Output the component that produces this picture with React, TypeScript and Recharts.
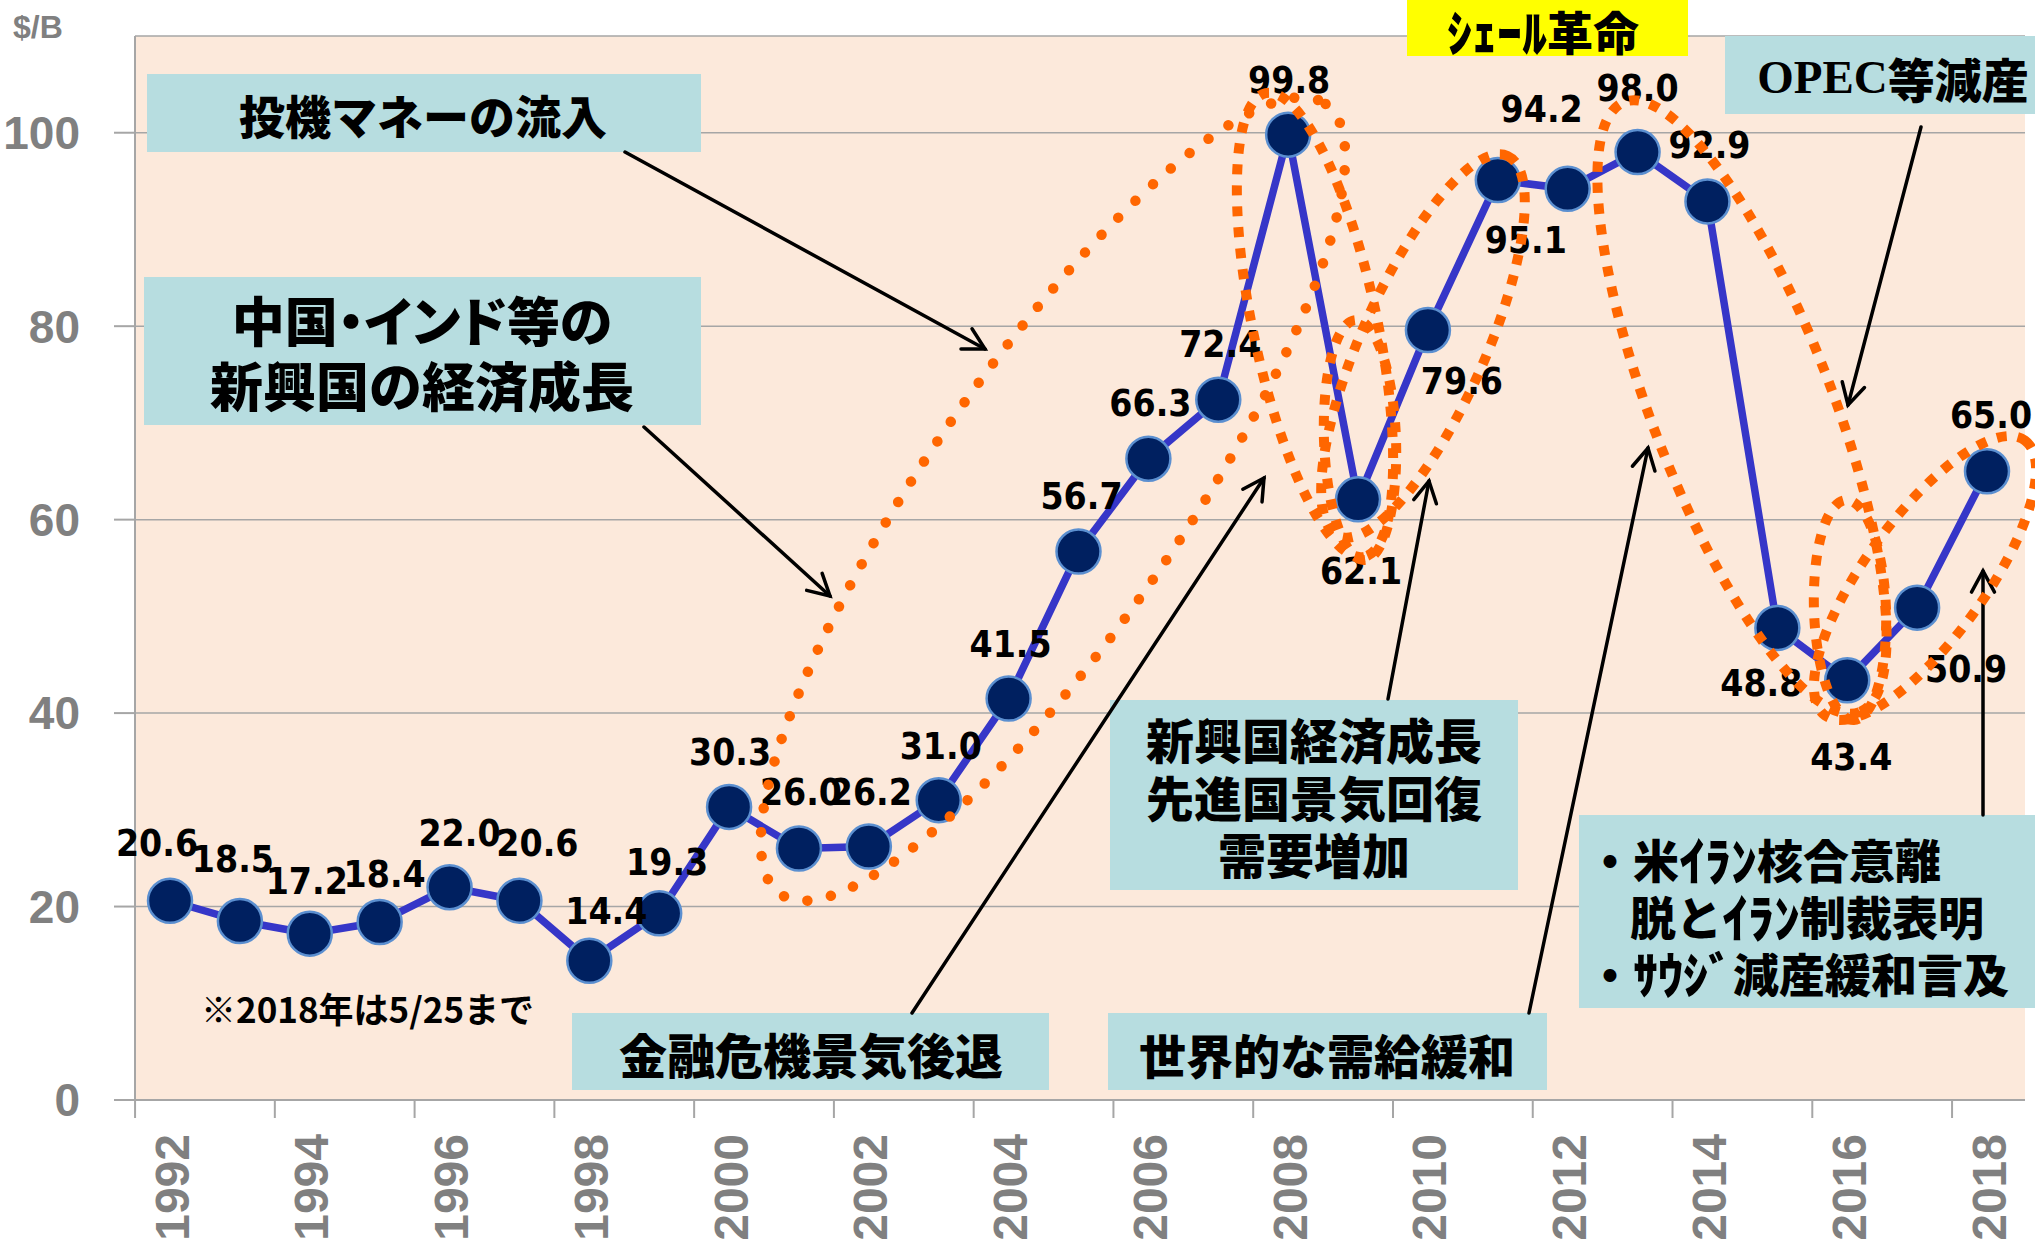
import React from 'react';
import { LineChart, Line, XAxis, YAxis, CartesianGrid, LabelList } from 'recharts';

// ---------- data ----------
const years = [
  '1992', '1993', '1994', '1995', '1996', '1997', '1998', '1999', '2000',
  '2001', '2002', '2003', '2004', '2005', '2006', '2007', '2008', '2009',
  '2010', '2011', '2012', '2013', '2014', '2015', '2016', '2017', '2018',
];
const prices = [
  20.6, 18.5, 17.2, 18.4, 22.0, 20.6, 14.4, 19.3, 30.3,
  26.0, 26.2, 31.0, 41.5, 56.7, 66.3, 72.4, 99.8, 62.1,
  79.6, 95.1, 94.2, 98.0, 92.9, 48.8, 43.4, 50.9, 65.0,
];
const yTicks = [0, 20, 40, 60, 80, 100];
const yUnit = '$/B';
const note = '※2018年は5/25まで';

const data = years.map((year, i) => ({ year, price: prices[i] }));

// ---------- layout ----------
const W = 2035;
const H = 1243;
const PLOT_LEFT = 135;
const PLOT_TOP = 36;
const PLOT_RIGHT = 2025;
const PLOT_BOTTOM = 1100;
const PAD_L = 35;
const PAD_R = 38;
const STEP = (PLOT_RIGHT - PAD_R - PLOT_LEFT - PAD_L) / (years.length - 1);

// label offsets (dx, dy) of each data label from its point
const labelOffsets: [number, number][] = [
  [-13, -57], [-7, -62], [-3, -52], [5, -48], [10, -54], [18, -57], [17, -49], [8, -51], [1, -54],
  [2, -56], [2, -54], [2, -54], [2, -54], [3, -55], [2, -55], [2, -55], [1, -54], [3, 72],
  [34, 51], [28, 60], [-26, -79], [0, -64], [2, -56], [-16, 56], [4, 77], [49, 62], [4, -56],
];

const GREY = '#808080';
const BOX = '#B7DDE0';
const ORANGE = '#FF6600';
const CJK = "'Noto Sans CJK JP', 'Noto Sans CJK SC', sans-serif";

const renderLabel = (props: any) => {
  const { x, y, value } = props;
  let i = props.index;
  if (i === undefined || i === null) i = years.indexOf(props?.payload?.year);
  const off = labelOffsets[i] || [0, -55];
  return (
    <text
      x={x + off[0]}
      y={y + off[1]}
      textAnchor="middle"
      dominantBaseline="central"
      fontFamily="'DejaVu Sans Condensed', 'DejaVu Sans', sans-serif"
      fontStretch="condensed"
      fontWeight="bold"
      fontSize={37}
      fill="#000"
    >
      {Number(value).toFixed(1)}
    </text>
  );
};

const XTick = (props: any) => {
  const { x, y, payload } = props;
  return (
    <g>
      <line x1={x - STEP / 2} y1={y} x2={x - STEP / 2} y2={y + 18} stroke="#A6A6A6" strokeWidth={2} />
      <g transform={`translate(${x + 2},${y}) rotate(-90)`}>
        <text
          x={-34}
          y={0}
          textAnchor="end"
          dominantBaseline="central"
          fontFamily="'Liberation Sans', Arial, sans-serif"
          fontWeight="bold"
          fontSize={48}
          fill={GREY}
        >
          {payload.value}
        </text>
      </g>
    </g>
  );
};

const Arrow = ({ x1, y1, x2, y2 }: { x1: number; y1: number; x2: number; y2: number }) => {
  const ang = Math.atan2(y2 - y1, x2 - x1);
  const L = 24;
  const a = 0.5;
  const p1 = [x2 - L * Math.cos(ang - a), y2 - L * Math.sin(ang - a)];
  const p2 = [x2 - L * Math.cos(ang + a), y2 - L * Math.sin(ang + a)];
  return (
    <g stroke="#000" strokeWidth={3.5} fill="none" strokeLinecap="round">
      <line x1={x1} y1={y1} x2={x2} y2={y2} />
      <polyline points={`${p1[0]},${p1[1]} ${x2},${y2} ${p2[0]},${p2[1]}`} />
    </g>
  );
};

const Ell = ({ cx, cy, rx, ry, rot, round }: { cx: number; cy: number; rx: number; ry: number; rot: number; round?: boolean }) => (
  <ellipse
    cx={cx}
    cy={cy}
    rx={rx}
    ry={ry}
    transform={`rotate(${rot} ${cx} ${cy})`}
    fill="none"
    stroke={ORANGE}
    strokeWidth={round ? 10.5 : 10}
    strokeDasharray={round ? '0.01 24' : '10 11'}
    strokeLinecap={round ? 'round' : 'butt'}
  />
);

const Overlay = () => (
  <svg
    width={W}
    height={H}
    style={{ position: 'absolute', left: 0, top: 0, pointerEvents: 'none' }}
  >
    {/* unit */}
    <text x={13} y={27} dominantBaseline="central" fontFamily="'Liberation Sans', Arial, sans-serif" fontWeight="bold" fontSize={32} fill={GREY}>
      {yUnit}
    </text>

    {/* boxes */}
    <rect x={147} y={74} width={554} height={78} fill={BOX} />
    <text x={423} y={114} textAnchor="middle" dominantBaseline="central" fontFamily={CJK} fontWeight={900} fontSize={46}>投機マネーの流入</text>

    <rect x={144} y={277} width={557} height={148} fill={BOX} />
    <text x={422} y={319} textAnchor="middle" dominantBaseline="central" fontFamily={CJK} fontWeight={900} fontSize={53} style={{ fontFeatureSettings: '"palt"' }}>中国・インド等の</text>
    <text x={422} y={384} textAnchor="middle" dominantBaseline="central" fontFamily={CJK} fontWeight={900} fontSize={53}>新興国の経済成長</text>

    <rect x={572} y={1013} width={477} height={77} fill={BOX} />
    <text x={811} y={1053} textAnchor="middle" dominantBaseline="central" fontFamily={CJK} fontWeight={900} fontSize={48}>金融危機景気後退</text>

    <rect x={1110} y={700} width={408} height={190} fill={BOX} />
    <text x={1314} y={738} textAnchor="middle" dominantBaseline="central" fontFamily={CJK} fontWeight={900} fontSize={48}>新興国経済成長</text>
    <text x={1314} y={796} textAnchor="middle" dominantBaseline="central" fontFamily={CJK} fontWeight={900} fontSize={48}>先進国景気回復</text>
    <text x={1314} y={853} textAnchor="middle" dominantBaseline="central" fontFamily={CJK} fontWeight={900} fontSize={48}>需要増加</text>

    <rect x={1108} y={1013} width={439} height={77} fill={BOX} />
    <text x={1327} y={1053} textAnchor="middle" dominantBaseline="central" fontFamily={CJK} fontWeight={900} fontSize={47}>世界的な需給緩和</text>

    <rect x={1407} y={0} width={281} height={56} fill="#FFFF00" />
    <text x={1447} y={30} dominantBaseline="central" fontFamily={CJK} fontWeight={900} fontSize={46}>
      <tspan fontSize={50}>ｼｪｰﾙ</tspan>革命
    </text>

    <rect x={1725} y={36} width={310} height={78} fill={BOX} />
    <text x={1893} y={77} textAnchor="middle" dominantBaseline="central" fontWeight={900} fontSize={47}>
      <tspan fontFamily="'Liberation Serif', 'Times New Roman', serif" fontWeight="bold">OPEC</tspan>
      <tspan fontFamily={CJK}>等減産</tspan>
    </text>

    <rect x={1579} y={815} width={456} height={193} fill={BOX} />
    <text x={1587} y={858} dominantBaseline="central" fontFamily={CJK} fontWeight={900} fontSize={46}>
      ・米<tspan fontSize={52}>ｲﾗﾝ</tspan>核合意離
    </text>
    <text x={1630} y={915} dominantBaseline="central" fontFamily={CJK} fontWeight={900} fontSize={46}>
      脱と<tspan fontSize={52}>ｲﾗﾝ</tspan>制裁表明
    </text>
    <text x={1587} y={972} dominantBaseline="central" fontFamily={CJK} fontWeight={900} fontSize={46}>
      ・<tspan fontSize={50}>ｻｳｼﾞ</tspan>減産緩和言及
    </text>

    <text x={201} y={1007} dominantBaseline="central" fontFamily={CJK} fontWeight={700} fontSize={35}>{note}</text>

    {/* arrows */}
    <Arrow x1={625} y1={152} x2={985} y2={349} />
    <Arrow x1={644} y1={427} x2={830} y2={596} />
    <Arrow x1={912} y1={1013} x2={1264} y2={478} />
    <Arrow x1={1388} y1={699} x2={1429} y2={481} />
    <Arrow x1={1529} y1={1013} x2={1648} y2={448} />
    <Arrow x1={1921} y1={127} x2={1848} y2={405} />
    <Arrow x1={1983} y1={815} x2={1983} y2={571} />

    {/* dotted ellipses */}
    <Ell cx={1053} cy={499} rx={480} ry={128} rot={-55.4} round />
    <Ell cx={1315} cy={325} rx={237} ry={62} rot={78} />
    <Ell cx={1360} cy={440} rx={120} ry={36} rot={88} />
    <Ell cx={1423} cy={346} rx={208} ry={62} rot={-66} />
    <Ell cx={1742} cy={407} rx={327} ry={90} rot={68.9} />
    <Ell cx={1850} cy={610} rx={110} ry={36} rot={88} />
    <Ell cx={1925} cy={578} rx={170} ry={60} rot={-54} />
  </svg>
);

export default function App() {
  return (
    <div style={{ position: 'absolute', left: 0, top: 0, width: W, height: H, background: '#fff', overflow: 'hidden' }}>
      <LineChart
        width={W}
        height={H}
        data={data}
        margin={{ top: PLOT_TOP, right: W - PLOT_RIGHT, bottom: 0, left: 0 }}
      >
        <CartesianGrid
          vertical={false}
          stroke="#A6A6A6"
          strokeWidth={1.5}
          fill="#FCE9DB"
          fillOpacity={1}
        />
        <XAxis
          dataKey="year"
          interval={1}
          height={H - PLOT_BOTTOM}
          padding={{ left: PAD_L, right: PAD_R }}
          tickLine={false}
          tickSize={0}
          tickMargin={0}
          axisLine={{ stroke: '#A6A6A6', strokeWidth: 2 }}
          tick={<XTick />}
        />
        <YAxis
          width={PLOT_LEFT}
          domain={[0, 110]}
          ticks={yTicks}
          interval={0}
          tickSize={21}
          tickMargin={34}
          axisLine={{ stroke: '#A6A6A6', strokeWidth: 2 }}
          tickLine={{ stroke: '#A6A6A6', strokeWidth: 2 }}
          tick={{ fill: GREY, fontSize: 46, fontWeight: 'bold', fontFamily: "'Liberation Sans', Arial, sans-serif" }}
        />
        <Line
          type="linear"
          dataKey="price"
          stroke="#3636C8"
          strokeWidth={7.5}
          isAnimationActive={false}
          dot={{ r: 22, fill: '#002060', stroke: '#5B8FD0', strokeWidth: 2.5 }}
          activeDot={false}
        >
          <LabelList dataKey="price" content={renderLabel} />
        </Line>
      </LineChart>
      <Overlay />
    </div>
  );
}
